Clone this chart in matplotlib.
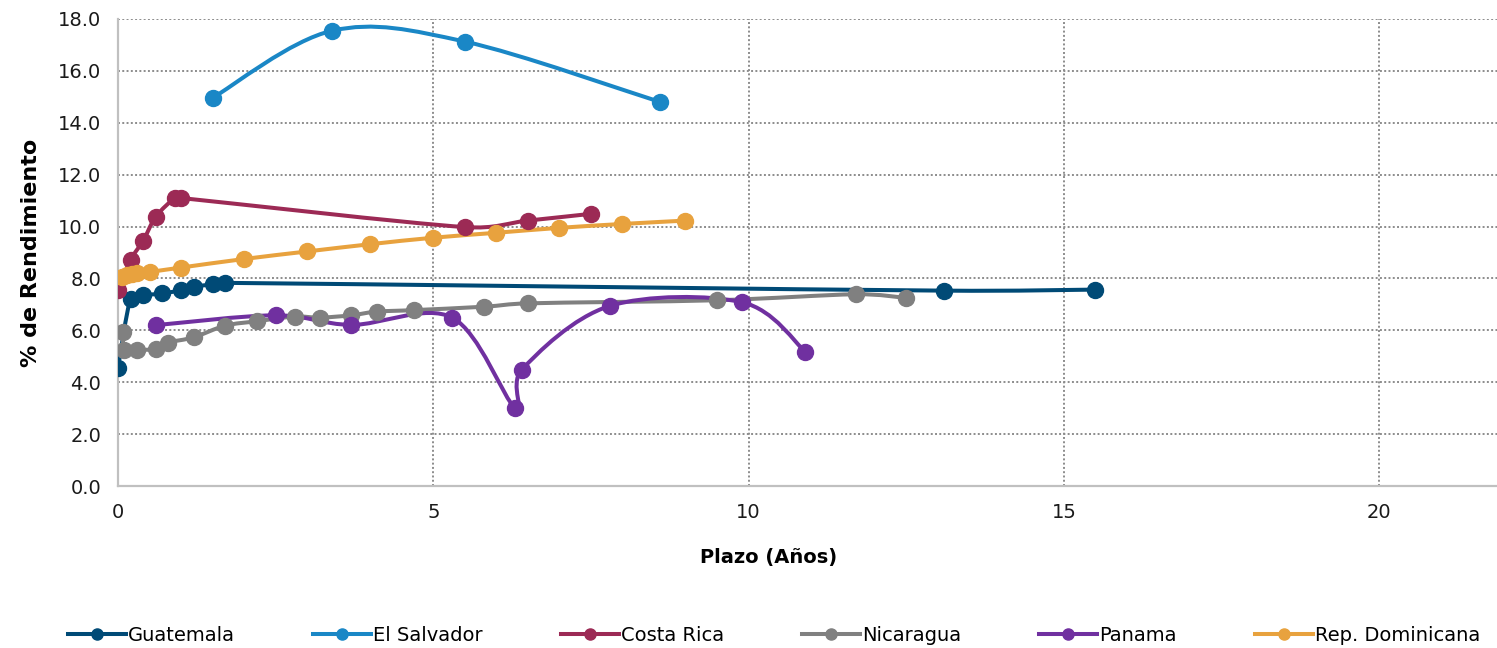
import numpy as np
import matplotlib.pyplot as plt
from matplotlib.path import Path
from matplotlib.patches import PathPatch
from matplotlib.lines import Line2D

plt.rcParams["font.family"] = ["DejaVu Sans"]

# Data
guatemala_x = [0.0, 0.2, 0.4, 0.7, 1.0, 1.2, 1.5, 1.7, 13.1, 15.5]
guatemala_y = [4.55, 7.22, 7.35, 7.42, 7.55, 7.68, 7.77, 7.83, 7.53, 7.57]

salvador_x = [1.5, 3.4, 5.5, 8.6]
salvador_y = [14.96, 17.55, 17.13, 14.8]

costarica_x = [0.0, 0.2, 0.4, 0.6, 0.9, 1.0, 5.5, 6.5, 7.5]
costarica_y = [7.54, 8.71, 9.46, 10.38, 11.1, 11.1, 9.98, 10.23, 10.49]

nicaragua_x = [0.08, 0.1, 0.3, 0.6, 0.8, 1.2, 1.7, 2.2, 2.8, 3.2, 3.7, 4.1, 4.7, 5.8, 6.5, 9.5, 11.7, 12.5]
nicaragua_y = [5.93, 5.24, 5.25, 5.28, 5.53, 5.73, 6.18, 6.35, 6.53, 6.49, 6.58, 6.72, 6.78, 6.91, 7.04, 7.16, 7.39, 7.25]

panama_x = [0.6, 2.5, 3.7, 5.3, 6.3, 6.4, 7.8, 9.9, 10.9]
panama_y = [6.2, 6.58, 6.21, 6.49, 3.0, 4.47, 6.94, 7.08, 5.18]

repdom_x = [0.06, 0.14, 0.22, 0.3, 0.5, 1.0, 2.0, 3.0, 4.0, 5.0, 6.0, 7.0, 8.0, 9.0]
repdom_y = [8.07, 8.12, 8.16, 8.2, 8.25, 8.42, 8.75, 9.04, 9.32, 9.57, 9.76, 9.95, 10.1, 10.23]

series = [
    ("Guatemala", guatemala_x, guatemala_y, "#004A76"),
    ("El Salvador", salvador_x, salvador_y, "#1A87C6"),
    ("Costa Rica", costarica_x, costarica_y, "#9C2A55"),
    ("Nicaragua", nicaragua_x, nicaragua_y, "#808080"),
    ("Panama", panama_x, panama_y, "#7030A0"),
    ("Rep. Dominicana", repdom_x, repdom_y, "#E8A23E"),
]


def smooth_path(ax, xs, ys):
    # Excel-style smoothed line: cubic bezier through the points, built in pixel space
    pts = ax.transData.transform(np.column_stack([xs, ys]))
    n = len(pts)
    verts = [pts[0]]
    codes = [Path.MOVETO]
    for i in range(n - 1):
        p0 = pts[i - 1] if i > 0 else pts[i]
        p1 = pts[i]
        p2 = pts[i + 1]
        p3 = pts[i + 2] if i + 2 < n else pts[i + 1]
        d12 = np.hypot(*(p2 - p1))
        d02 = np.hypot(*(p2 - p0))
        d13 = np.hypot(*(p3 - p1))
        f1 = 1 / 6 if d02 / 6 < d12 / 2 or d02 == 0 else d12 / (2 * d02)
        f2 = 1 / 6 if d13 / 6 < d12 / 2 or d13 == 0 else d12 / (2 * d13)
        b1 = p1 + (p2 - p0) * f1
        b2 = p2 - (p3 - p1) * f2
        verts += [b1, b2, p2]
        codes += [Path.CURVE4] * 3
    verts = ax.transData.inverted().transform(np.array(verts))
    return Path(verts, codes)


fig = plt.figure(figsize=(14.97, 6.48), dpi=100)
ax = fig.add_axes([118 / 1497, 162 / 648, 1 - 118 / 1497, 467 / 648])
ax.set_xlim(0, 21.87)
ax.set_ylim(0, 18)

handles = []
for name, xs, ys, color in series:
    path = smooth_path(ax, xs, ys)
    ax.add_patch(PathPatch(path, facecolor="none", edgecolor=color, lw=2.9,
                           capstyle="round", joinstyle="round", zorder=3))
    ax.plot(xs, ys, linestyle="none", marker="o", markersize=11.5,
            color=color, zorder=4)
    handles.append(Line2D([], [], color=color, lw=2.9, marker="o",
                          markersize=8, label=name))

ax.set_xticks([0, 5, 10, 15, 20])
ax.set_yticks(np.arange(0, 18.1, 2))
ax.set_yticklabels([f"{v:.1f}" for v in np.arange(0, 18.1, 2)])
ax.tick_params(axis="both", length=0, labelsize=14, colors="#1a1a1a")
ax.tick_params(axis="x", pad=12)
ax.tick_params(axis="y", pad=12)

ax.grid(True, linestyle=(0, (1, 1.2)), color="#8c8c8c", linewidth=1.4, zorder=1)
ax.set_axisbelow(True)
for side in ["top", "right"]:
    ax.spines[side].set_visible(False)
for side in ["left", "bottom"]:
    ax.spines[side].set_color("#c0c0c0")
    ax.spines[side].set_linewidth(1.6)

ax.set_xlabel("Plazo (Años)", fontsize=14, fontweight="bold")
ax.xaxis.set_label_coords(0.472, -0.133)
ax.set_ylabel("% de Rendimiento", fontsize=16, fontweight="bold", labelpad=12)

fig.legend(handles=handles, loc="center", bbox_to_anchor=(0.517, 0.02),
           ncol=6, frameon=False, fontsize=14, handlelength=3.0,
           handletextpad=0.1, columnspacing=4.0)

fig.savefig("out.png", dpi=100)
